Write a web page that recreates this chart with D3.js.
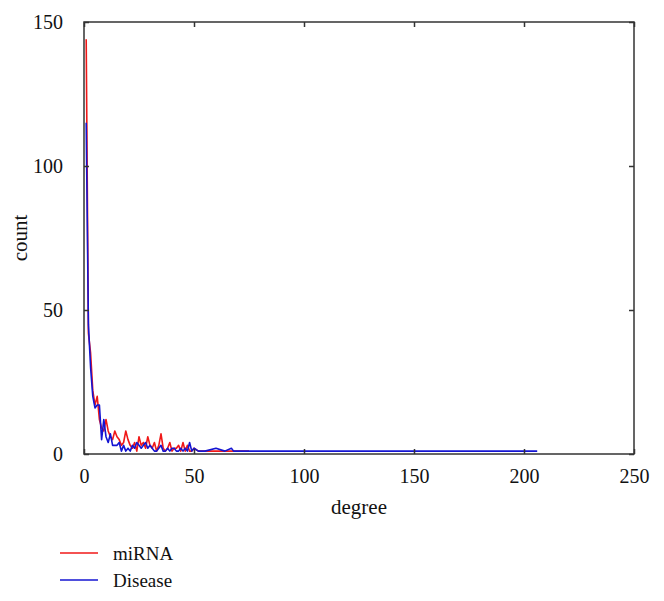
<!DOCTYPE html>
<html>
<head>
<meta charset="utf-8">
<script src="https://cdnjs.cloudflare.com/ajax/libs/d3/7.8.5/d3.min.js"></script>
<style>
  body { margin: 0; background: #fff; }
  svg text { font-family: "Liberation Serif", "DejaVu Serif", serif; fill: #111; }
</style>
</head>
<body>
<svg id="chart" width="664" height="601"></svg>
<script>
// degree distribution
const mirnaDegree = [1,2,3,4,5,6,7,8,9,10,11,12,13,14,15,16,17,18,19,20,21,22,23,24,25,26,27,28,29,30,31,32,33,34,35,36,37,38,39,40,41,42,43,44,45,46,47,48,49,50,52,54,57,60,63,66,70,75]
const mirnaCount = [144,42,35,22,17,20,12,9,8,12,8,6,5,8,6,5,3,4,8,5,3,2,4,1,6,3,4,2,6,3,2,4,1,3,7,2,1,2,4,1,2,2,3,1,4,1,3,1,1,2,1,1,1,1,1,1,1,1]

const diseaseDegree = [1,2,3,4,5,6,7,8,9,10,11,12,13,14,15,16,17,18,19,20,21,22,23,24,25,26,27,28,29,30,31,32,33,34,35,36,37,38,39,40,41,42,43,44,45,46,47,48,49,50,52,55,60,64,67,68,75,90,100,125,150,180,206]
const diseaseCount = [115,45,30,20,16,17,17,5,12,6,4,7,3,3,3,4,1,3,1,2,1,3,2,4,3,2,3,4,2,3,2,1,1,2,3,1,1,2,1,2,2,1,1,2,1,2,1,4,1,2,1,1,2,1,2,1,1,1,1,1,1,1,1]

const xTicks = [0, 50, 100, 150, 200, 250]
const yTicks = [0, 50, 100, 150]

const series = [
  { name: "miRNA", color: "#f01818", x: mirnaDegree, y: mirnaCount },
  { name: "Disease", color: "#1414d2", x: diseaseDegree, y: diseaseCount }
]

var margin = { top: 22, right: 30, bottom: 147, left: 84 }
var width = 664 - margin.left - margin.right
var height = 601 - margin.top - margin.bottom

var svg = d3.select("#chart")
var g = svg.append("g").attr("transform", `translate(${margin.left},${margin.top})`)

var x = d3.scaleLinear().domain([0, 250]).range([0, width])
var y = d3.scaleLinear().domain([0, 150]).range([height, 0])

var line = d3.line()
  .x(d => x(d[0]))
  .y(d => y(d[1]))

series.forEach(s => {
  g.append("path")
    .datum(s.x.map((v, i) => [v, s.y[i]]))
    .attr("d", line)
    .attr("fill", "none")
    .attr("stroke", s.color)
    .attr("stroke-width", 1.6)
    .attr("stroke-linejoin", "round")
})

// frame + inward ticks
var axisColor = "#333"
g.append("rect")
  .attr("width", width).attr("height", height)
  .attr("fill", "none").attr("stroke", axisColor).attr("stroke-width", 1.5)

var axBottom = g.append("g")
  .attr("transform", `translate(0,${height})`)
  .call(d3.axisBottom(x).tickValues(xTicks).tickSizeInner(-5).tickSizeOuter(0).tickPadding(13))
var axTop = g.append("g")
  .call(d3.axisTop(x).tickValues(xTicks).tickSizeInner(-5).tickSizeOuter(0).tickFormat(""))
var axLeft = g.append("g")
  .call(d3.axisLeft(y).tickValues(yTicks).tickSizeInner(-5).tickSizeOuter(0).tickPadding(21))
var axRight = g.append("g")
  .attr("transform", `translate(${width},0)`)
  .call(d3.axisRight(y).tickValues(yTicks).tickSizeInner(-5).tickSizeOuter(0).tickFormat(""))

;[axBottom, axTop, axLeft, axRight].forEach(a => {
  a.select(".domain").remove()
  a.attr("font-family", null).attr("font-size", null)
  a.selectAll("line").attr("stroke", axisColor).attr("stroke-width", 1.5)
  a.selectAll("text")
    .style("font-size", "20px")
    .attr("fill", "#111")
})
axLeft.selectAll("text").attr("dy", "0.33em")
axBottom.selectAll("text").attr("dy", "0.8em")

// axis titles
svg.append("text")
  .attr("x", margin.left + width / 2)
  .attr("y", 514)
  .attr("text-anchor", "middle")
  .style("font-size", "21px")
  .text("degree")

svg.append("text")
  .attr("transform", "translate(27," + (margin.top + height / 2) + ") rotate(-90)")
  .attr("text-anchor", "middle")
  .style("font-size", "21px")
  .text("count")

// legend
var legend = svg.append("g").attr("transform", "translate(60,553)")
series.forEach((s, i) => {
  var row = legend.append("g").attr("transform", `translate(0,${i * 27})`)
  row.append("line")
    .attr("x1", 0).attr("x2", 38)
    .attr("stroke", s.color).attr("stroke-width", 1.6)
  row.append("text")
    .attr("x", 53).attr("dy", "0.35em")
    .style("font-size", "19px")
    .text(s.name)
})
</script>
</body>
</html>
